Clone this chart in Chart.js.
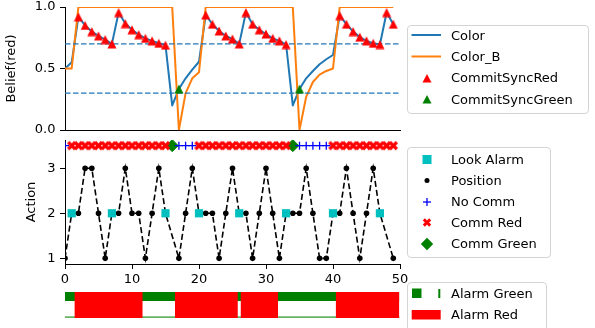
<!DOCTYPE html>
<html><head><meta charset="utf-8">
<script src="https://cdn.jsdelivr.net/npm/chart.js@4/dist/chart.umd.min.js"></script>
<style>
html,body{margin:0;padding:0;background:#fff;}
body{width:595px;height:328px;position:relative;overflow:hidden;font-family:'DejaVu Sans',sans-serif;}
canvas{position:absolute;left:0;top:0;}
.lg{position:absolute;border:1px solid #d4d4d4;border-radius:4px;background:#fff;box-sizing:border-box;}
.lt{position:absolute;font-size:13px;line-height:16px;color:#000;white-space:nowrap;}
</style></head>
<body>
<canvas id="c1" width="595" height="328"></canvas>
<canvas id="c2" width="595" height="328"></canvas>
<canvas id="c3" width="595" height="328"></canvas>
<div class="lg" style="left:407px;top:25px;width:182px;height:89px;"></div>
<div class="lg" style="left:407px;top:147px;width:144px;height:111px;"></div>
<div class="lg" style="left:407px;top:282px;width:140px;height:60px;"></div>
<svg width="595" height="328" style="position:absolute;left:0;top:0;">
  <line x1="411.5" y1="35" x2="441" y2="35" stroke="#1f77b4" stroke-width="2"/>
  <line x1="411.5" y1="56.5" x2="441" y2="56.5" stroke="#ff7f0e" stroke-width="2"/>
  <polygon points="427,74 431.5,82.5 422.5,82.5" fill="#ff0000"/>
  <polygon points="427,95 431.5,103.5 422.5,103.5" fill="#008000"/>
  <rect x="422.5" y="155" width="9" height="9" fill="#00bfbf"/>
  <circle cx="427" cy="180.5" r="2.5" fill="#000"/>
  <line x1="423" y1="202" x2="431" y2="202" stroke="#0000ff" stroke-width="1.3"/>
  <line x1="427" y1="198" x2="427" y2="206" stroke="#0000ff" stroke-width="1.3"/>
  <polygon id="lgx" fill="#ff0000" points=""/>
  <polygon points="427,237.8 433.2,244 427,250.2 420.8,244" fill="#008000"/>
  <rect x="412" y="288.5" width="9.5" height="9.5" fill="#008000"/>
  <line x1="439.3" y1="289" x2="439.3" y2="298" stroke="#008000" stroke-width="2"/>
  <rect x="411.7" y="310" width="29" height="9.5" fill="#ff0000"/>
</svg>
<div class="lt" style="left:451px;top:27.5px;">Color</div>
<div class="lt" style="left:451px;top:49px;">Color_B</div>
<div class="lt" style="left:451px;top:70.3px;">CommitSyncRed</div>
<div class="lt" style="left:451px;top:91.5px;">CommitSyncGreen</div>
<div class="lt" style="left:451px;top:151.5px;">Look Alarm</div>
<div class="lt" style="left:451px;top:172.6px;">Position</div>
<div class="lt" style="left:451px;top:194px;">No Comm</div>
<div class="lt" style="left:451px;top:214.8px;">Comm Red</div>
<div class="lt" style="left:451px;top:236.3px;">Comm Green</div>
<div class="lt" style="left:451px;top:286px;">Alarm Green</div>
<div class="lt" style="left:451px;top:307px;">Alarm Red</div>
<script>
// ---------------- data ----------------
const timeSteps = [0,1,2,3,4,5,6,7,8,9,10,11,12,13,14,15,16,17,18,19,20,21,22,23,24,25,26,27,28,29,30,31,32,33,34,35,36,37,38,39,40,41,42,43,44,45,46,47,48,49];
const beliefColor = [0.50,0.55,0.92,0.85,0.80,0.765,0.735,0.70,0.955,0.865,0.815,0.775,0.745,0.725,0.705,0.69,0.20,0.333,0.42,0.49,0.555,0.935,0.86,0.805,0.765,0.74,0.70,0.955,0.86,0.815,0.78,0.745,0.725,0.695,0.20,0.333,0.42,0.48,0.535,0.575,0.61,0.93,0.86,0.80,0.755,0.725,0.705,0.695,0.955,0.86];
const beliefColorB = [0.5,0.5,1,1,1,1,1,1,1,1,1,1,1,1,1,1,1,0.0,0.30,0.42,0.47,1,1,1,1,1,1,1,1,1,1,1,1,1,1,0.0,0.27,0.39,0.45,0.48,0.50,1,1,1,1,1,1,1,1,1];
const thresholds = [0.3, 0.7];
const commitSyncRedT = [2,3,4,5,6,7,8,9,10,11,12,13,14,15,21,22,23,24,25,26,27,28,29,30,31,32,33,41,42,43,44,45,46,47,48,49];
const commitSyncGreenT = [17, 35];
const positions = [1,2,2,3,3,2,1,2,2,3,2,2,1,2,3,2,null,1,2,3,2,2,2,1,2,3,2,2,1,2,3,2,1,2,2,2,3,2,1,1,2,2,3,2,1,2,3,2,null,1];
const lookAlarmT = [1, 7, 15, 20, 26, 33, 40, 47];
const lookAlarmLevel = 2;
const noCommT = [0, 17, 18, 19, 35, 36, 37, 38, 39];
const commRedT = [1,2,3,4,5,6,7,8,9,10,11,12,13,14,15,20,21,22,23,24,25,26,27,28,29,30,31,32,33,40,41,42,43,44,45,46,47,48,49];
const commGreenT = [16, 34];
const commLevel = 3.5;
const alarmGreenSpans = [[0, 49.9]];
const alarmRedSpans = [[1.4, 11.6], [16.4, 25.8], [26.2, 31.8], [40.4, 49.9]];
const beliefTicks = [0, 0.5, 1];
const actionTicks = [1, 2, 3];
const timeTicks = [0, 10, 20, 30, 40, 50];

// ---------------- styling helpers ----------------
Chart.defaults.font.family = "'DejaVu Sans', sans-serif";
Chart.defaults.font.size = 13;
Chart.defaults.color = '#000';
Chart.defaults.animation = false;

// matplotlib-like filled 'X' outline (unit shape)
const X_SHAPE = [[-1,-2],[0,-1],[1,-2],[2,-1],[1,0],[2,1],[1,2],[0,1],[-1,2],[-2,1],[-1,0],[-2,-1]];
const X_SCALE = 2.35;

function markerCanvas(size, draw) {
  const c = document.createElement('canvas');
  c.width = size; c.height = size;
  draw(c.getContext('2d'), size);
  return c;
}
function triangle(color) {
  return markerCanvas(10, (g, s) => {
    g.fillStyle = color; g.beginPath();
    g.moveTo(s / 2, 0.5); g.lineTo(s - 0.5, s - 0.5); g.lineTo(0.5, s - 0.5);
    g.closePath(); g.fill();
  });
}
const triRed = triangle('#ff0000');
const triGreen = triangle('#008000');
const xRed = markerCanvas(11, (g, s) => {
  g.fillStyle = '#ff0000';
  const c = s / 2;
  g.beginPath();
  X_SHAPE.forEach((p, i) => i ? g.lineTo(c + p[0] * X_SCALE, c + p[1] * X_SCALE) : g.moveTo(c + p[0] * X_SCALE, c + p[1] * X_SCALE));
  g.closePath(); g.fill();
});
document.getElementById('lgx').setAttribute('points',
  X_SHAPE.map(p => (427 + p[0] * 2.1) + ',' + (222.5 + p[1] * 2.1)).join(' '));

const pts = (ts, ys) => ts.map((t, i) => ({x: t, y: ys[i]}));
const fixedTicks = (arr) => (s) => { s.ticks = arr.map(v => ({value: v})); };
const axisBorder = {display: true, color: '#000', width: 1};
const tickGrid = {drawOnChartArea: false, drawTicks: true, tickLength: 5, color: '#000', lineWidth: 1};
const commonPlugins = {legend: {display: false}, tooltip: {enabled: false}};

// ---------------- top: belief ----------------
new Chart(document.getElementById('c1'), {
  type: 'line',
  data: {datasets: [
    {label: 'CommitSyncRed', data: commitSyncRedT.map(t => ({x: t, y: beliefColor[t]})), showLine: false,
     pointStyle: triRed, pointRadius: 5, order: 0},
    {label: 'CommitSyncGreen', data: commitSyncGreenT.map(t => ({x: t, y: beliefColor[t]})), showLine: false,
     pointStyle: triGreen, pointRadius: 5, order: 0},
    ...thresholds.map(v => ({label: 'thr', data: [{x: timeSteps[0], y: v}, {x: 50, y: v}],
     borderColor: '#1f77b4', borderWidth: 1.4, borderDash: [5.5, 2.5], pointRadius: 0, order: 1})),
    {label: 'Color_B', data: pts(timeSteps, beliefColorB), borderColor: '#ff7f0e', borderWidth: 2,
     pointRadius: 0, borderJoinStyle: 'round', order: 2},
    {label: 'Color', data: pts(timeSteps, beliefColor), borderColor: '#1f77b4', borderWidth: 2,
     pointRadius: 0, borderJoinStyle: 'round', order: 3}
  ]},
  options: {
    responsive: false, events: [], plugins: commonPlugins,
    layout: {padding: {left: 0, top: 7, right: 195, bottom: 198}},
    scales: {
      x: {type: 'linear', min: 0, max: 50, ticks: {display: false}, grid: {display: false},
          border: axisBorder, afterFit(s) { s.height = 0; s.paddingLeft = 0; s.paddingRight = 0; }},
      y: {type: 'linear', min: 0, max: 1, afterBuildTicks: fixedTicks(beliefTicks),
          ticks: {callback: v => Number(v).toFixed(1), padding: 4.5},
          grid: tickGrid, border: axisBorder,
          title: {display: true, text: 'Belief(red)', padding: {top: 4, bottom: 0}},
          afterFit(s) { s.width = 65; s.paddingTop = 0; s.paddingBottom = 0; }}
    }
  }
});

// ---------------- middle: action ----------------
new Chart(document.getElementById('c2'), {
  type: 'line',
  data: {datasets: [
    {label: 'No Comm', data: noCommT.map(t => ({x: t, y: commLevel})), showLine: false,
     pointStyle: 'cross', pointRadius: 4, borderColor: '#0000ff', borderWidth: 1.3, order: 0},
    {label: 'Comm Red', data: commRedT.map(t => ({x: t, y: commLevel})), showLine: false,
     pointStyle: xRed, pointRadius: 5, order: 0},
    {label: 'Comm Green', data: commGreenT.map(t => ({x: t, y: commLevel})), showLine: false,
     pointStyle: 'rectRot', pointRadius: 6, backgroundColor: '#008000', borderColor: '#008000', borderWidth: 1, order: 0},
    {label: 'Look Alarm', data: lookAlarmT.map(t => ({x: t, y: lookAlarmLevel})), showLine: false,
     pointStyle: 'rect', pointRadius: 5.8, backgroundColor: '#00bfbf', borderWidth: 0, order: 1},
    {label: 'Position', data: positions.map((p, i) => ({x: timeSteps[i], y: p})).filter(d => d.y !== null),
     borderColor: '#000', borderWidth: 1.6, borderDash: [6, 3], pointRadius: 2.8,
     pointBackgroundColor: '#000', pointBorderColor: '#000', pointBorderWidth: 0, order: 2}
  ]},
  options: {
    responsive: false, events: [], plugins: commonPlugins,
    layout: {padding: {left: 0, top: 140, right: 195, bottom: 34}},
    scales: {
      x: {type: 'linear', min: 0, max: 50, afterBuildTicks: fixedTicks(timeTicks),
          ticks: {padding: 3, maxRotation: 0}, grid: tickGrid, border: axisBorder,
          afterFit(s) { s.height = 30; s.paddingLeft = 0; s.paddingRight = 0; }},
      y: {type: 'linear', min: 0.875, max: 3.625, afterBuildTicks: fixedTicks(actionTicks),
          ticks: {padding: 4.5}, grid: tickGrid, border: axisBorder,
          title: {display: true, text: 'Action', padding: {top: 24, bottom: 0}},
          afterFit(s) { s.width = 65; s.paddingTop = 0; s.paddingBottom = 0; }}
    }
  }
});

// ---------------- bottom: alarm strip ----------------
new Chart(document.getElementById('c3'), {
  type: 'line',
  data: {datasets: [
    ...alarmRedSpans.map(sp => ({label: 'Alarm Red', data: [{x: sp[0], y: 1}, {x: sp[1], y: 1}],
      fill: 'origin', backgroundColor: '#ff0000', borderWidth: 0, pointRadius: 0, order: 0})),
    {label: 'Alarm Green base', data: [{x: alarmGreenSpans[0][0], y: 0.03}, {x: alarmGreenSpans[0][1], y: 0.03}],
      borderColor: 'rgba(0,128,0,0.6)', borderWidth: 1.8, pointRadius: 0, fill: false, order: 1},
    ...alarmGreenSpans.map(sp => ({label: 'Alarm Green', data: [{x: sp[0], y: 1}, {x: sp[1], y: 1}],
      fill: {value: 0.655}, backgroundColor: '#008000', borderWidth: 0, pointRadius: 0, order: 2}))
  ]},
  options: {
    responsive: false, events: [], plugins: commonPlugins,
    layout: {padding: {left: 65, top: 292, right: 195, bottom: 10}},
    scales: {
      x: {type: 'linear', display: false, min: 0, max: 50},
      y: {type: 'linear', display: false, min: 0, max: 1}
    }
  }
});
</script>
</body></html>
